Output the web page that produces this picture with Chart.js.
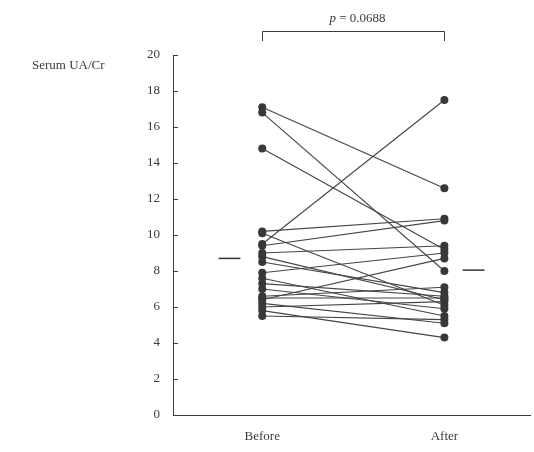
<!DOCTYPE html>
<html>
<head>
<meta charset="utf-8">
<script src="https://cdn.jsdelivr.net/npm/chart.js@4"></script>
<style>
  html, body { margin: 0; padding: 0; background: #fff; }
  #wrap { width: 534px; height: 452px; }
</style>
</head>
<body>
<div id="wrap"><canvas id="chart" width="534" height="452"></canvas></div>
<script>
// --- data ---
const groups = ['Before', 'After'];
const beforeVals = [17.1, 16.8, 14.8, 9.5, 10.2, 10.1, 9.4, 9.0, 8.8, 8.5, 7.9, 7.6, 7.3, 7.0, 6.6, 6.5, 6.4, 6.2, 5.8, 5.5, 6.0];
const afterVals  = [12.6, 8.0, 9.2, 17.5, 10.9, 6.1, 10.8, 9.4, 6.4, 6.8, 9.0, 5.5, 6.6, 5.9, 7.1, 6.5, 8.7, 5.1, 4.3, 5.3, 6.3];
const meanVals = [8.7, 8.05];
const yTicks = [0, 2, 4, 6, 8, 10, 12, 14, 16, 18, 20];
const pText = '= 0.0688';
const yTitle = 'Serum UA/Cr';

const FONT = '"Liberation Serif", "DejaVu Serif", serif';
const INK = '#3a3a3a';

// one dataset per subject (paired line)
const datasets = beforeVals.map((b, i) => ({
  data: [{ x: 0, y: b }, { x: 1, y: afterVals[i] }],
  borderColor: '#444',
  borderWidth: 1.1,
  pointRadius: 4,
  pointBackgroundColor: '#383838',
  pointBorderWidth: 0,
  showLine: true
}));

// short mean bars beside each column
datasets.push({
  data: [{ x: -0.24, y: meanVals[0] }, { x: -0.12, y: meanVals[0] }],
  borderColor: '#333', borderWidth: 1.5, pointRadius: 0, showLine: true
});
datasets.push({
  data: [{ x: 1.10, y: meanVals[1] }, { x: 1.22, y: meanVals[1] }],
  borderColor: '#333', borderWidth: 1.5, pointRadius: 0, showLine: true
});

// inward ticks, y title and p-value bracket
const extras = {
  id: 'extras',
  afterDraw(chart) {
    const ctx = chart.ctx;
    const ys = chart.scales.y, xs = chart.scales.x;
    const left = chart.chartArea.left;
    ctx.save();
    ctx.strokeStyle = INK;
    ctx.lineWidth = 1;
    yTicks.forEach(v => {
      const py = Math.round(ys.getPixelForValue(v)) + 0.5;
      ctx.beginPath();
      ctx.moveTo(left, py);
      ctx.lineTo(left + 5, py);
      ctx.stroke();
    });

    ctx.fillStyle = INK;
    ctx.font = '13px ' + FONT;
    ctx.textAlign = 'left';
    ctx.textBaseline = 'middle';
    ctx.fillText(yTitle, 32, 66);

    // bracket
    const x0 = Math.round(xs.getPixelForValue(0)) + 0.5;
    const x1 = Math.round(xs.getPixelForValue(1)) + 0.5;
    ctx.beginPath();
    ctx.moveTo(x0, 41);
    ctx.lineTo(x0, 31.5);
    ctx.lineTo(x1, 31.5);
    ctx.lineTo(x1, 41);
    ctx.stroke();

    ctx.textBaseline = 'alphabetic';
    ctx.font = 'italic 13px ' + FONT;
    const pw = ctx.measureText('p ').width;
    ctx.font = '13px ' + FONT;
    const tw = ctx.measureText(pText).width;
    const startX = (x0 + x1) / 2 - (pw + tw) / 2 + 4;
    ctx.font = 'italic 13px ' + FONT;
    ctx.fillText('p', startX, 22);
    ctx.font = '13px ' + FONT;
    ctx.fillText(pText, startX + pw, 22);
    ctx.restore();
  }
};

new Chart(document.getElementById('chart'), {
  type: 'scatter',
  data: { datasets },
  options: {
    responsive: false,
    animation: false,
    layout: { padding: { top: 55, right: 4, left: 0, bottom: 0 } },
    plugins: { legend: { display: false }, tooltip: { enabled: false } },
    scales: {
      x: {
        type: 'linear',
        min: -0.49,
        max: 1.47,
        afterBuildTicks: s => { s.ticks = [{ value: 0 }, { value: 1 }]; },
        afterFit: s => { s.height = 37; },
        ticks: {
          callback: v => groups[v],
          color: INK,
          font: { family: FONT, size: 13 },
          padding: 14,
          maxRotation: 0
        },
        grid: { display: false, drawTicks: false },
        border: { display: true, color: INK, width: 1 }
      },
      y: {
        min: 0,
        max: 20,
        afterBuildTicks: s => { s.ticks = yTicks.map(v => ({ value: v })); },
        afterFit: s => { s.width = 173; },
        ticks: {
          color: INK,
          font: { family: FONT, size: 13 },
          padding: 13
        },
        grid: { display: false, drawTicks: false },
        border: { display: true, color: INK, width: 1 }
      }
    }
  },
  plugins: [extras]
});
</script>
</body>
</html>
